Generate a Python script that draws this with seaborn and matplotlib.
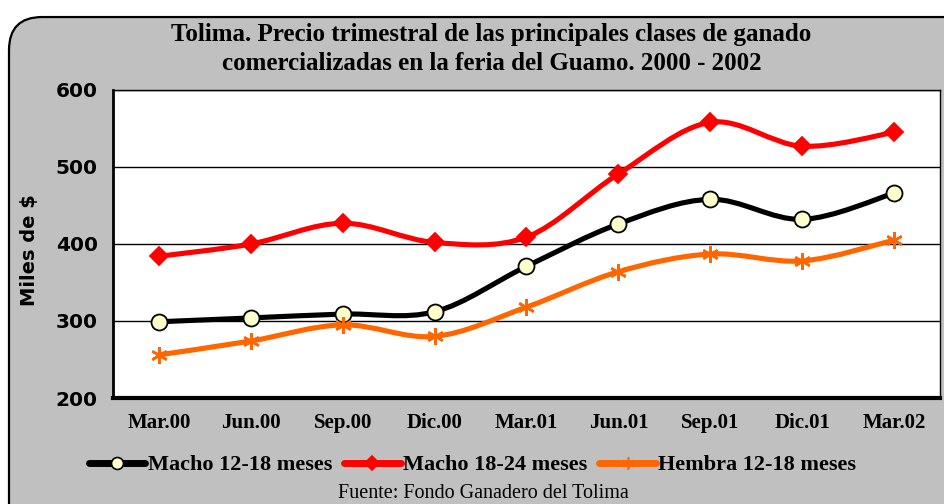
import numpy as np
import pandas as pd
import seaborn as sns
import matplotlib.pyplot as plt
from matplotlib.path import Path
from matplotlib.patches import PathPatch, FancyBboxPatch
from matplotlib.lines import Line2D

# Data
trimestres = ["Mar.00", "Jun.00", "Sep.00", "Dic.00", "Mar.01",
              "Jun.01", "Sep.01", "Dic.01", "Mar.02"]
macho_12_18 = [299, 304, 309, 312, 371, 426, 458, 432, 466]
macho_18_24 = [384, 400, 427, 402, 409, 491, 558, 527, 545]
hembra_12_18 = [256, 274, 295, 280, 318, 364, 387, 378, 405]

series = [
    ("Macho 12-18 meses", macho_12_18, "black", "o", "#FFFFCC", "black", 11.5),
    ("Macho 18-24 meses", macho_18_24, "#FF0000", "D", "#FF0000", "#FF0000", 9.5),
    ("Hembra 12-18 meses", hembra_12_18, "#FF6600", (6, 2, 0), "#FF6600", "#FF6600", 12),
]

sns.set_style("white")
plt.rcParams["font.family"] = ["DejaVu Sans"]
plt.rcParams["text.color"] = "black"
plt.rcParams["xtick.color"] = "black"
plt.rcParams["ytick.color"] = "black"
plt.rcParams["axes.labelcolor"] = "black"

fig = plt.figure(figsize=(9.45, 5.04), dpi=100)
fig.patch.set_facecolor("white")

# rounded grey chart frame
frame = FancyBboxPatch((9 / 945, -0.1), 1.1, (504 - 12) / 504 + 0.1 - 0.01,
                       boxstyle="round,pad=0,rounding_size=0.035",
                       transform=fig.transFigure, facecolor="#C0C0C0",
                       edgecolor="black", linewidth=1.6, mutation_aspect=945 / 504,
                       zorder=-5)
fig.patches.append(frame)

ax = fig.add_axes([113 / 945, 1 - 398 / 504, (940 - 113) / 945, (398 - 90) / 504])
ax.set_facecolor("white")


def smooth_path(xs, ys):
    # Excel style smoothed line: cubic Bezier segments through every point
    pts = np.column_stack([xs, ys]).astype(float)
    n = len(pts)
    verts = [pts[0]]
    codes = [Path.MOVETO]
    for i in range(n - 1):
        p0 = pts[i - 1] if i > 0 else pts[i]
        p1 = pts[i]
        p2 = pts[i + 1]
        p3 = pts[i + 2] if i + 2 < n else pts[i + 1]
        c1 = p1 + (p2 - p0) / 6
        c2 = p2 - (p3 - p1) / 6
        verts += [c1, c2, p2]
        codes += [Path.CURVE4] * 3
    return Path(verts, codes)


xpos = np.arange(len(trimestres))
handles = []
for name, vals, color, marker, mfc, mec, ms in series:
    patch = PathPatch(smooth_path(xpos, vals), facecolor="none", edgecolor=color,
                      linewidth=3.7, capstyle="round", joinstyle="round", zorder=3)
    ax.add_patch(patch)
    df = pd.DataFrame({"x": xpos, "y": vals})
    sns.lineplot(data=df, x="x", y="y", ax=ax, linestyle="", marker=marker,
                 markersize=ms, markerfacecolor=mfc, markeredgecolor=mec,
                 markeredgewidth=1.3 if marker != (6, 2, 0) else 1.8,
                 color=color, zorder=4)
    handles.append(Line2D([], [], color=color, linewidth=5, marker=marker,
                          markersize=ms * 0.75, markerfacecolor=mfc,
                          markeredgecolor=mec, markeredgewidth=1.2, label=name))

ax.set_xlim(-0.5, 8.5)
ax.set_ylim(200, 600)
ax.set_yticks([200, 300, 400, 500, 600])
ax.set_xticks(xpos)
ax.set_xticklabels(trimestres, family="Liberation Serif", fontweight="bold", fontsize=15)
ax.set_xticks(np.arange(-0.5, 9, 1), minor=True)
ax.tick_params(axis="x", which="major", length=0, pad=11)
ax.tick_params(axis="x", which="minor", length=5, width=1.2, direction="out", color="black")
ax.tick_params(axis="y", length=5, width=1.2, direction="out", color="black", pad=6)
for lab in ax.get_yticklabels():
    lab.set_fontweight("heavy")
    lab.set_fontsize(14.5)
ax.set_xlabel("")
ax.set_ylabel("Miles de $", fontweight="bold", fontsize=14)
ax.yaxis.set_label_coords(-0.09, 0.48)

ax.grid(axis="y", color="black", linewidth=1.0)
ax.set_axisbelow(True)
ax.spines["left"].set_linewidth(2.0)
ax.spines["bottom"].set_linewidth(3.0)
ax.spines["top"].set_linewidth(1.0)
ax.spines["right"].set_linewidth(1.0)
for s in ax.spines.values():
    s.set_color("black")

fig.text(0.52, 1 - 34 / 504, "Tolima. Precio trimestral de las principales clases de ganado",
         ha="center", va="center", family="Liberation Serif", fontweight="bold", fontsize=18)
fig.text(0.52, 1 - 64 / 504, "comercializadas en la feria del Guamo. 2000 - 2002",
         ha="center", va="center", family="Liberation Serif", fontweight="bold", fontsize=18)

leg = fig.legend(handles=handles, loc="center", bbox_to_anchor=(0.5, 1 - 465 / 504),
                 ncol=3, frameon=False, handlelength=2.55, handletextpad=0.1,
                 columnspacing=0.55, prop={"family": "Liberation Serif", "weight": "bold", "size": 16})

fig.text(0.512, 1 - 493 / 504, "Fuente: Fondo Ganadero del Tolima", ha="center", va="center",
         family="Liberation Serif", fontsize=14.5)

fig.savefig("out.png", dpi=100)
